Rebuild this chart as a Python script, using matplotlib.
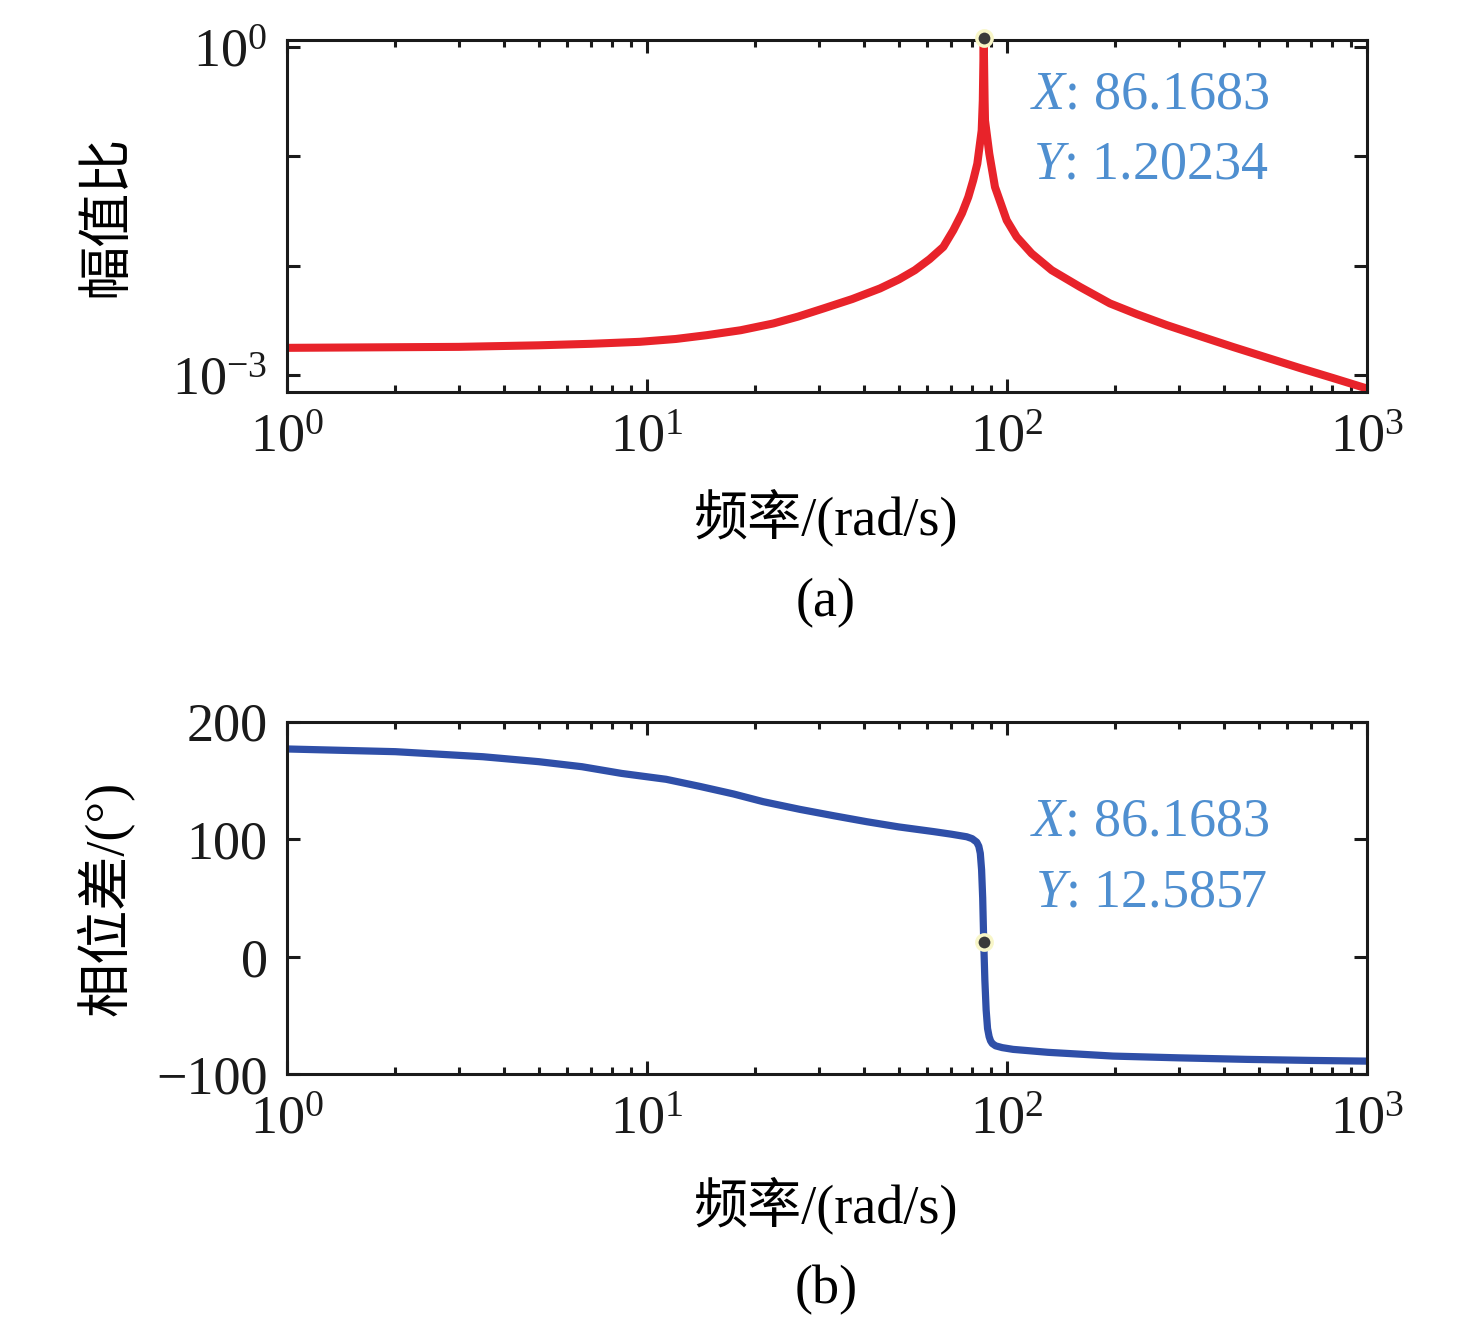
import matplotlib
matplotlib.use('Agg')
import matplotlib.pyplot as plt
from matplotlib.ticker import LogLocator, NullLocator, FixedLocator, LogFormatterMathtext, NullFormatter

plt.rcParams['font.family'] = ['Liberation Serif', 'Noto Sans CJK SC']
plt.rcParams['mathtext.fontset'] = 'custom'
plt.rcParams['mathtext.rm'] = 'Liberation Serif'
plt.rcParams['mathtext.it'] = 'Liberation Serif:italic'
plt.rcParams['axes.unicode_minus'] = True

# amplitude ratio
freq_mag = [1, 3.0, 5.0, 7.0, 9.55, 12.02, 14.66, 18.2, 22.44, 26.3, 30.9, 37.15, 44.36,
            50.1, 55.46, 60.95, 66.55, 70.93, 74.99, 78.07, 80.54, 82.70, 85.05, 85.66,
            86.1683,
            86.66, 86.88, 89.29, 92.6, 99.8, 106.4, 117.1, 133.1, 159.5, 193.2, 229.2,
            277.7, 343.6, 425.3, 651.5, 804.7, 1000]
mag = [1.774e-3, 1.811e-3, 1.871e-3, 1.932e-3, 2.014e-3, 2.138e-3, 2.317e-3, 2.570e-3,
       2.965e-3, 3.428e-3, 4.064e-3, 4.955e-3, 6.194e-3, 7.499e-3, 9.10e-3, 0.01148,
       0.01486, 0.02109, 0.0302, 0.04246, 0.06026, 0.0857, 0.1726, 0.3243,
       1.20234,
       0.3243, 0.2133, 0.1059, 0.0525, 0.02606, 0.01834, 0.01292, 9.10e-3, 6.40e-3,
       4.52e-3, 3.61e-3, 2.864e-3, 2.27e-3, 1.803e-3, 1.159e-3, 9.39e-4, 7.53e-4]

# phase difference
freq_ph = [1, 2, 3.5, 5, 6.6, 8.5, 11.3, 14, 17.4, 21, 26.6, 33, 40.8, 50, 62.5, 70,
           77.3, 80, 82.4, 83.5, 84.3, 85.0, 85.6, 86.1683, 86.8, 87.5, 88.3, 89.2, 90,
           91, 93, 97, 104, 130, 197, 300, 463, 700, 1000]
phase = [176.8, 174.5, 170.2, 166, 161.7, 156, 151, 145, 138.5, 132, 125.4, 120, 114.9,
         110.5, 106.5, 104.3, 102.1, 100.5, 97.5, 94, 88, 74, 50, 12.5857, -20, -45, -61,
         -68, -71.5, -73.8, -75.8, -77.3, -78.8, -81.3, -84.5, -86, -87.3, -88.2, -88.8]

peak_x, peak_y = 86.1683, 1.20234
ph_x, ph_y = 86.1683, 12.5857

FS = 39
TXT = '#4f8fd0'

fig = plt.figure(figsize=(14.76, 13.23), dpi=100)
ax1 = fig.add_axes([287/1476, 1-392/1323, 1080/1476, 352/1323])
ax2 = fig.add_axes([287/1476, 1-1074.3/1323, 1080/1476, 352.6/1323])

ax1.loglog(freq_mag, mag, color='#e8232a', lw=5.8, solid_joinstyle='round')
ax1.plot([peak_x], [peak_y], 'o', ms=11, mfc='#3a3a3a', mec='#f8f6c8', mew=2.5,
         clip_on=False, zorder=5)
ax1.set_xlim(1, 1000)
ax1.set_ylim(7.0e-4, 1.16)
ax1.yaxis.set_major_locator(FixedLocator([1e-3, 1e-2, 1e-1, 1e0]))
ax1.yaxis.set_minor_locator(NullLocator())
ax1.set_yticklabels([r'$\mathdefault{10^{-3}}$', '', '', r'$\mathdefault{10^{0}}$'])
ax1.text(0.799, 0.844, r'$\mathit{X}$: 86.1683', transform=ax1.transAxes, color=TXT,
         fontsize=FS, ha='center', va='center')
ax1.text(0.80, 0.645, r'$\mathit{Y}$: 1.20234', transform=ax1.transAxes, color=TXT,
         fontsize=FS, ha='center', va='center')
ax1.set_ylabel('幅值比', fontsize=FS)

ax2.semilogx(freq_ph, phase, color='#2f4fa8', lw=5.2, solid_joinstyle='round')
ax2.plot([ph_x], [ph_y], 'o', ms=11, mfc='#3a3a3a', mec='#f8f6c8', mew=2.5, zorder=5)
ax2.set_xlim(1, 1000)
ax2.set_ylim(-100, 200)
ax2.set_yticks([-100, 0, 100, 200])
ax2.yaxis.set_minor_locator(NullLocator())
ax2.text(0.799, 0.716, r'$\mathit{X}$: 86.1683', transform=ax2.transAxes, color=TXT,
         fontsize=FS, ha='center', va='center')
ax2.text(0.80, 0.514, r'$\mathit{Y}$: 12.5857', transform=ax2.transAxes, color=TXT,
         fontsize=FS, ha='center', va='center')
ax2.set_ylabel('相位差/(°)', fontsize=FS)

for ax, ly in ((ax1, -0.355), (ax2, -0.371)):
    ax.xaxis.set_major_locator(LogLocator(base=10, numticks=10))
    ax.xaxis.set_major_formatter(LogFormatterMathtext())
    ax.xaxis.set_minor_locator(LogLocator(base=10, subs=range(2, 10), numticks=10))
    ax.xaxis.set_minor_formatter(NullFormatter())
    ax.tick_params(which='both', direction='in', top=True, right=True, width=2.2,
                   labelsize=FS, colors='#1a1a1a')
    ax.tick_params(which='major', length=9.5)
    ax.tick_params(which='minor', length=5)
    ax.tick_params(axis='x', pad=15)
    ax.tick_params(axis='y', pad=14)
    for s in ax.spines.values():
        s.set_linewidth(2.2)
        s.set_color('#1a1a1a')
    ax.set_xlabel('频率/(rad/s)', fontsize=FS)
    ax.xaxis.set_label_coords(0.499, ly)
    ax.xaxis.label.set_va('center')
    ax.yaxis.set_label_coords(-0.142, 0.5)

fig.text(826/1476, 1-603/1323, '(a)', fontsize=FS, ha='center', va='center')
fig.text(826/1476, 1-1290/1323, '(b)', fontsize=FS, ha='center', va='center')

fig.savefig('out.png', dpi=100)
